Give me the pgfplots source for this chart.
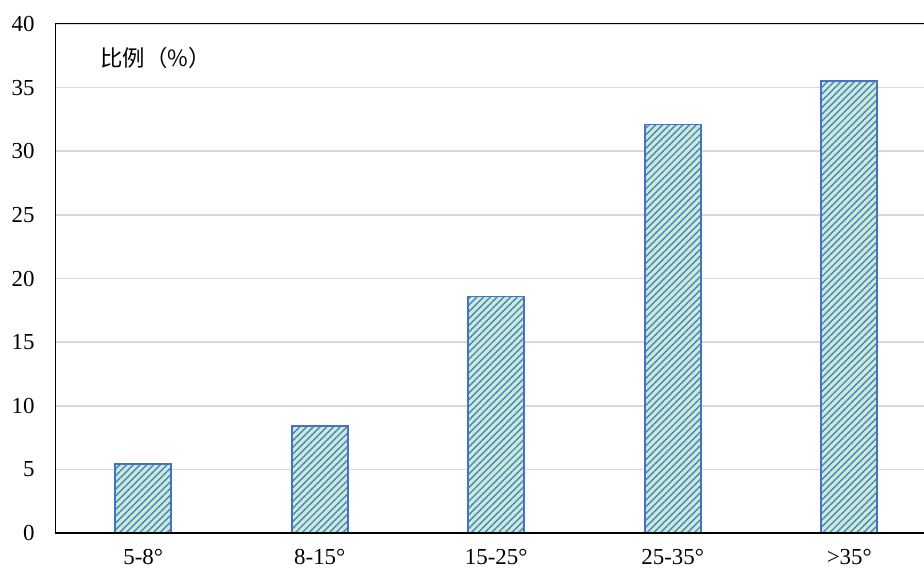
\documentclass[border=0pt]{standalone}
\usepackage{pgfplots}
\pgfplotsset{compat=1.18}
\usepackage{fontspec}
\setmainfont{Liberation Serif}
\newfontfamily\cjk{Noto Sans CJK SC}
\usetikzlibrary{patterns.meta}
\definecolor{baredge}{RGB}{68,114,196}
\definecolor{barfill}{RGB}{200,238,208}
\definecolor{stripe}{RGB}{80,125,205}
\definecolor{gridc}{RGB}{217,217,217}
\begin{document}
\begin{tikzpicture}
\begin{axis}[
  name=ax,
  scale only axis,
  width=882.5bp, height=509bp,
  xmin=-0.5, xmax=4.5, ymin=0, ymax=40,
  xtick={0,1,2,3,4},
  xticklabels={5-8°,8-15°,15-25°,25-35°,>35°},
  ytick={0,5,...,40},
  major tick length=0pt,
  ymajorgrids, grid style={gridc, line width=1.6pt},
  axis line style={black, line width=1pt},
  tick label style={font=\fontsize{23}{26}\selectfont},
  /pgf/number format/assume math mode=true,
  yticklabel style={xshift=-17bp},
  xticklabel style={yshift=-13bp},
  ybar, bar width=56bp,
  clip=false,
]
\addplot[draw=baredge, line width=1.6pt, fill=barfill,
  postaction={pattern={Lines[angle=45,distance=4.8pt,line width=1.4pt]}, pattern color=stripe}]
  coordinates {(0,5.4) (1,8.4) (2,18.6) (3,32.1) (4,35.5)};
\draw[black, line width=2pt] (axis cs:-0.5,0) -- (axis cs:4.5,0);
\node[font=\cjk\fontsize{22.5}{25}\selectfont, anchor=center] at (axis cs:0.07,37.3) {比例（\%）};
\end{axis}
\pgfresetboundingbox
\path ([xshift=-55bp,yshift=-38bp]ax.south west) rectangle ([xshift=869bp,yshift=533bp]ax.south west);
\end{tikzpicture}
\end{document}
